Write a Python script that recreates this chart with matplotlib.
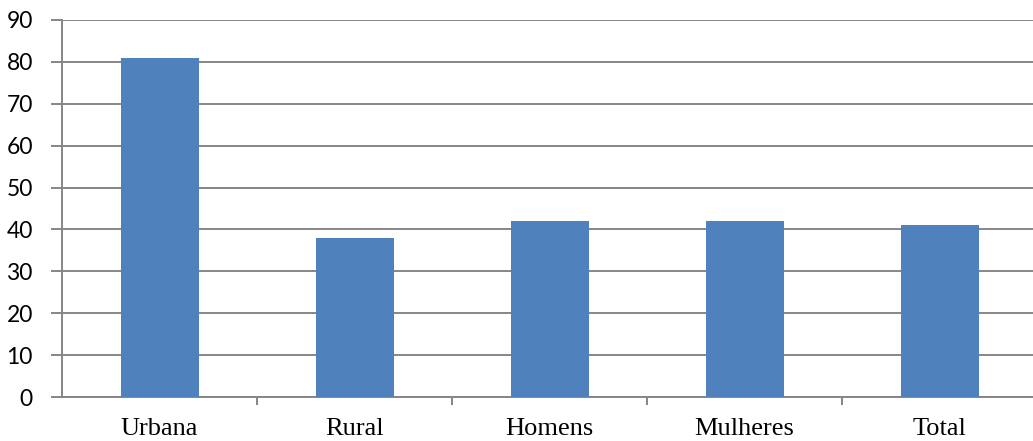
import matplotlib
matplotlib.use("Agg")
import matplotlib.pyplot as plt
import numpy as np

categories = ["Urbana", "Rural", "Homens", "Mulheres", "Total"]
values = [81, 38, 42, 42, 41]
yticks = [0, 10, 20, 30, 40, 50, 60, 70, 80, 90]

GRID = "#868686"
BAR = "#4f81bd"

fig = plt.figure(figsize=(10.33, 4.41), dpi=100)
ax = fig.add_axes([62 / 1033, 44 / 441, 971 / 1033, 377 / 441])

x = np.arange(len(categories))
ax.bar(x, values, width=0.4, color=BAR, zorder=3)

ax.set_ylim(0, 90)
ax.set_xlim(-0.5, -0.5 + 971 / 195)
ax.set_yticks(yticks)
ax.set_yticklabels([str(v) for v in yticks], family="Lato", fontsize=16.5)
ax.yaxis.grid(True, color=GRID, lw=1.4, zorder=0)
ax.tick_params(axis="y", length=8, width=1.4, color=GRID, pad=13)

ax.set_xticks(x)
ax.set_xticklabels(categories, family="Liberation Serif", fontsize=19)
ax.tick_params(axis="x", which="major", length=0, pad=15)
ax.set_xticks(np.arange(0.5, len(categories) - 0.5, 1), minor=True)
ax.tick_params(axis="x", which="minor", length=6, width=1.4, color=GRID)

for s in ["top", "right"]:
    ax.spines[s].set_visible(False)
for s in ["left", "bottom"]:
    ax.spines[s].set_color(GRID)
    ax.spines[s].set_linewidth(1.4)

fig.savefig("out.png", dpi=100)
